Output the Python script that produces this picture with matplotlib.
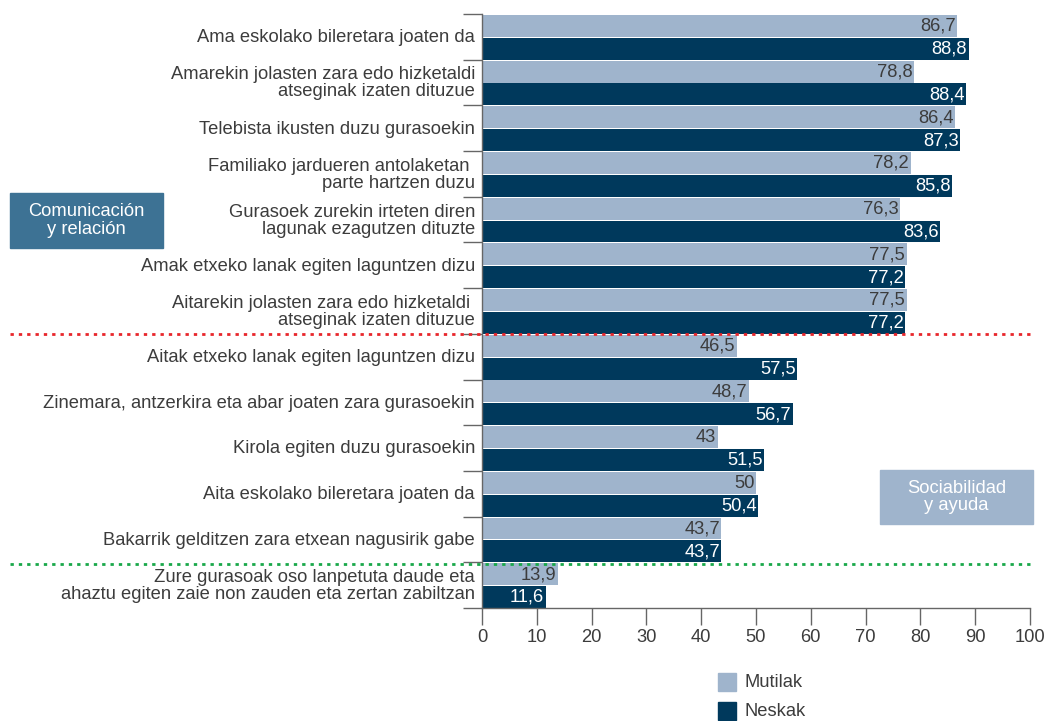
import matplotlib.pyplot as plt
from matplotlib.patches import Rectangle
from matplotlib.lines import Line2D
import numpy as np

plt.rcParams['font.family'] = ['Liberation Sans', 'DejaVu Sans']

categories = [
    "Ama eskolako bileretara joaten da",
    "Amarekin jolasten zara edo hizketaldi\natseginak izaten dituzue",
    "Telebista ikusten duzu gurasoekin",
    "Familiako jardueren antolaketan \nparte hartzen duzu",
    "Gurasoek zurekin irteten diren\nlagunak ezagutzen dituzte",
    "Amak etxeko lanak egiten laguntzen dizu",
    "Aitarekin jolasten zara edo hizketaldi \natseginak izaten dituzue",
    "Aitak etxeko lanak egiten laguntzen dizu",
    "Zinemara, antzerkira eta abar joaten zara gurasoekin",
    "Kirola egiten duzu gurasoekin",
    "Aita eskolako bileretara joaten da",
    "Bakarrik gelditzen zara etxean nagusirik gabe",
    "Zure gurasoak oso lanpetuta daude eta\nahaztu egiten zaie non zauden eta zertan zabiltzan",
]
mutilak = [86.7, 78.8, 86.4, 78.2, 76.3, 77.5, 77.5, 46.5, 48.7, 43, 50, 43.7, 13.9]
neskak = [88.8, 88.4, 87.3, 85.8, 83.6, 77.2, 77.2, 57.5, 56.7, 51.5, 50.4, 43.7, 11.6]
mutilak_labels = ["86,7", "78,8", "86,4", "78,2", "76,3", "77,5", "77,5", "46,5", "48,7", "43", "50", "43,7", "13,9"]
neskak_labels = ["88,8", "88,4", "87,3", "85,8", "83,6", "77,2", "77,2", "57,5", "56,7", "51,5", "50,4", "43,7", "11,6"]
series_names = ["Mutilak", "Neskak"]

light = '#9fb4cc'
dark = '#00395c'
text_col = '#3c3c3c'
axis_col = '#666666'
fs = 13.2

W, H = 1050, 721
fig = plt.figure(figsize=(10.5, 7.21), dpi=100)
ax = fig.add_axes([482 / W, 1 - 608 / H, (1030 - 482) / W, (608 - 14) / H])

y = np.arange(len(categories))
bh = 0.48
ax.barh(y - bh / 2, mutilak, height=bh, color=light)
ax.barh(y + bh / 2 + 0.02, neskak, height=bh, color=dark)

for i in range(len(categories)):
    ax.text(mutilak[i] - 0.3, y[i] - bh / 2 + 0.01, mutilak_labels[i], ha='right', va='center',
            fontsize=fs, color=text_col)
    ax.text(neskak[i] - 0.3, y[i] + bh / 2 + 0.03, neskak_labels[i], ha='right', va='center',
            fontsize=fs, color='white')

ax.set_xlim(0, 100)
ax.set_ylim(len(categories) - 0.5, -0.5)
ax.set_xticks(range(0, 101, 10))
ax.tick_params(axis='x', length=12, width=1, color=axis_col, labelsize=fs,
               labelcolor=text_col, pad=3)

# category boundaries get the ticks, labels sit in between
ax.set_yticks(np.arange(-0.5, len(categories), 1))
ax.set_yticklabels([])
ax.tick_params(axis='y', length=14, width=1, color=axis_col)
for i, c in enumerate(categories):
    ax.text(-0.013, i + 0.02, c, transform=ax.get_yaxis_transform(), ha='right', va='center',
            fontsize=fs, color=text_col, linespacing=1.0)

for s in ['top', 'right']:
    ax.spines[s].set_visible(False)
for s in ['left', 'bottom']:
    ax.spines[s].set_color(axis_col)
    ax.spines[s].set_linewidth(1)

# dotted separators
fig.add_artist(Line2D([10 / W, 1033 / W], [1 - 334 / H] * 2, color='#e8262b',
                      linestyle=(0, (1.2, 1.8)), linewidth=2))
fig.add_artist(Line2D([10 / W, 1033 / W], [1 - 564 / H] * 2, color='#1aa84a',
                      linestyle=(0, (1.2, 1.8)), linewidth=2))

# group boxes
fig.add_artist(Rectangle((10 / W, 1 - 248 / H), 153 / W, 55 / H, color='#3d7294'))
fig.text(86.5 / W, 1 - 220.5 / H, "Comunicación\ny relación", ha='center', va='center',
         color='white', fontsize=fs, linespacing=1.0)
fig.add_artist(Rectangle((880 / W, 1 - 524 / H), 153 / W, 54 / H, color=light))
fig.text(956.5 / W, 1 - 497 / H, "Sociabilidad\ny ayuda", ha='center', va='center',
         color='white', fontsize=fs, linespacing=1.0)

# legend, placed by hand under the axis
for k, (name, col) in enumerate(zip(series_names, [light, dark])):
    top = 673 + 29 * k
    fig.add_artist(Rectangle((718 / W, 1 - (top + 18) / H), 18 / W, 18 / H, color=col))
    fig.text(745 / W, 1 - (top + 9.5) / H, name, ha='left', va='center',
             fontsize=fs, color=text_col)

fig.savefig('out.png', dpi=100)
